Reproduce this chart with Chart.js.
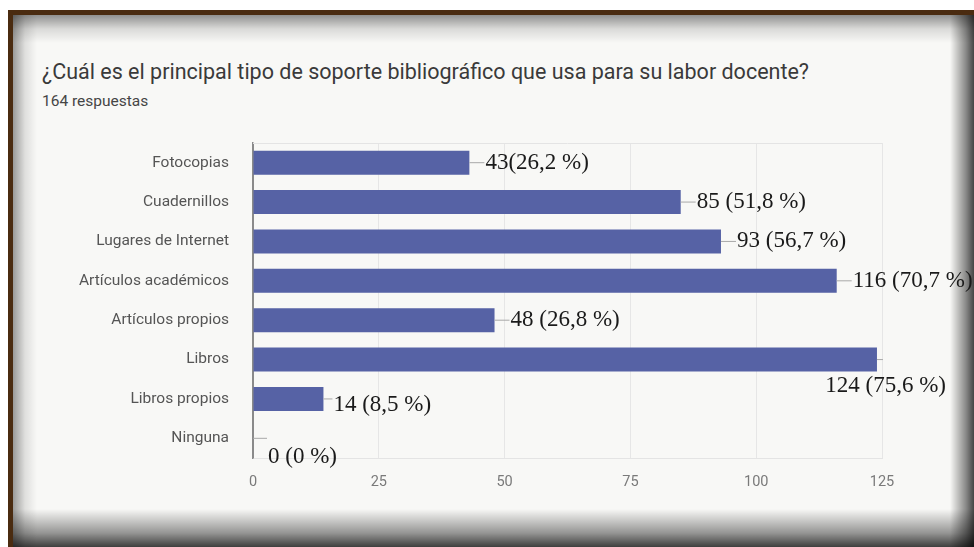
<!DOCTYPE html>
<html lang="es">
<head>
<meta charset="utf-8">
<title>Soporte bibliográfico</title>
<script src="https://cdn.jsdelivr.net/npm/chart.js@4.4.1/dist/chart.umd.min.js"></script>
<style>
  html, body { margin: 0; padding: 0; background: #fff; overflow: hidden; }
  body { width: 974px; height: 547px; position: relative; }
  #frame {
    position: absolute; left: 8px; top: 10px; width: 980px; height: 560px;
    background: #4a2b10;
  }
  #panel {
    position: absolute; left: 13px; top: 15px; width: 961px; height: 532px;
    background:
      linear-gradient(to bottom, rgba(0,0,0,0.42) 0, rgba(0,0,0,0.12) 14px, rgba(0,0,0,0) 28px),
      linear-gradient(to right, rgba(0,0,0,0.38) 0, rgba(0,0,0,0.1) 12px, rgba(0,0,0,0) 24px),
      linear-gradient(to left, rgba(0,0,0,0.72) 0, rgba(0,0,0,0.45) 8px, rgba(0,0,0,0) 24px),
      linear-gradient(to top, rgba(0,0,0,0.75) 0, rgba(0,0,0,0.4) 14px, rgba(0,0,0,0) 38px),
      #f8f8f6;
  }
  .txt { position: absolute; left: 42px; font-family: Roboto, "Noto Sans", sans-serif; white-space: nowrap; }
  #title { top: 59px; font-size: 21.5px; line-height: 25px; color: #3a3a3a; }
  #subtitle { top: 93px; font-size: 15.5px; line-height: 17px; color: #454545; }
  #chart { position: absolute; left: 0; top: 0; }
</style>
</head>
<body>
<div id="frame"></div>
<div id="panel"></div>
<div class="txt" id="title">¿Cuál es el principal tipo de soporte bibliográfico que usa para su labor docente?</div>
<div class="txt" id="subtitle">164 respuestas</div>
<canvas id="chart" width="974" height="547"></canvas>
<script>
const categories = [
  'Fotocopias', 'Cuadernillos', 'Lugares de Internet', 'Artículos académicos',
  'Artículos propios', 'Libros', 'Libros propios', 'Ninguna'
];
const counts = [43, 85, 93, 116, 48, 124, 14, 0];
const percents = ['(26,2 %)', ' (51,8 %)', ' (56,7 %)', ' (70,7 %)', ' (26,8 %)', ' (75,6 %)', ' (8,5 %)', ' (0 %)'];
const xTicks = [0, 25, 50, 75, 100, 125];

const barColor = '#5662a5';

// leader line + serif value label at the end of each bar
const valueLabels = {
  id: 'valueLabels',
  afterDatasetsDraw(chart) {
    const ctx = chart.ctx;
    const bars = chart.getDatasetMeta(0).data;
    const tweak = {
      5: { lead: 6, dx: 69, dy: 26, align: 'right' },
      6: { lead: 9, dy: 6 },
      7: { lead: 14, dy: 19 }
    };
    ctx.save();
    ctx.font = '23px "Liberation Serif", "DejaVu Serif", serif';
    ctx.textBaseline = 'middle';
    bars.forEach((bar, i) => {
      const t = tweak[i] || {};
      const lead = t.lead ?? 15;
      ctx.strokeStyle = '#a8a8a8';
      ctx.lineWidth = 1;
      ctx.beginPath();
      ctx.moveTo(bar.x, bar.y);
      ctx.lineTo(bar.x + lead, bar.y);
      ctx.stroke();
      ctx.fillStyle = '#1a1a1a';
      ctx.textAlign = t.align || 'left';
      const tx = t.dx !== undefined ? bar.x + t.dx : bar.x + lead + 1;
      ctx.fillText(counts[i] + percents[i], tx, bar.y + (t.dy || 0));
    });
    ctx.restore();
  }
};

// faint line along the top of the plot area
const topRule = {
  id: 'topRule',
  beforeDatasetsDraw(chart) {
    const { ctx, chartArea } = chart;
    ctx.save();
    ctx.strokeStyle = '#e4e4e4';
    ctx.lineWidth = 1;
    ctx.beginPath();
    ctx.moveTo(chartArea.left, chartArea.top + 0.5);
    ctx.lineTo(chartArea.right, chartArea.top + 0.5);
    ctx.stroke();
    ctx.restore();
  }
};

new Chart(document.getElementById('chart'), {
  type: 'bar',
  data: {
    labels: categories,
    datasets: [{
      data: counts,
      backgroundColor: barColor,
      borderWidth: 0,
      barPercentage: 0.61,
      categoryPercentage: 1
    }]
  },
  options: {
    indexAxis: 'y',
    responsive: false,
    animation: false,
    layout: { padding: { top: 143, left: 42, right: 92, bottom: 49 } },
    plugins: {
      legend: { display: false },
      tooltip: { enabled: false }
    },
    scales: {
      x: {
        min: 0,
        max: 125,
        afterBuildTicks: scale => { scale.ticks = xTicks.map(v => ({ value: v })); },
        afterFit: scale => { scale.height = 40; },
        grid: {
          color: ctx => ctx.index === 0 ? '#8a8a8a' : '#e6e6e6',
          drawTicks: false
        },
        border: { display: true, color: '#e4e4e4' },
        ticks: {
          padding: 16,
          color: '#7a7a7a',
          font: { family: 'Roboto', size: 14.5 }
        }
      },
      y: {
        afterFit: scale => { scale.width = 211; },
        grid: { display: false },
        border: { display: true, color: '#8a8a8a', width: 1.5 },
        ticks: {
          padding: 16,
          color: '#555',
          font: { family: 'Roboto', size: 15.5 }
        }
      }
    }
  },
  plugins: [topRule, valueLabels]
});
</script>
</body>
</html>
